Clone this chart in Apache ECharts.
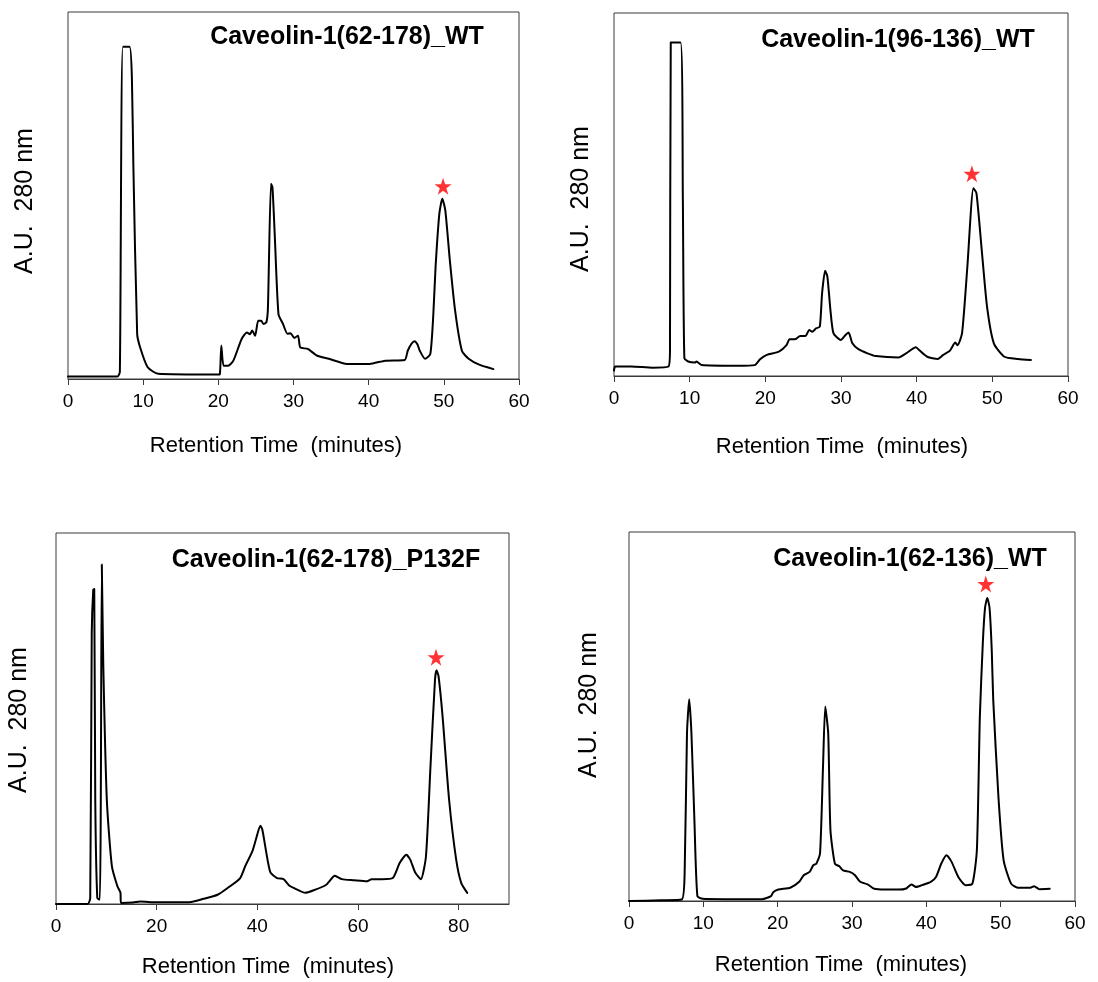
<!DOCTYPE html>
<html>
<head>
<meta charset="utf-8">
<script src="https://cdn.jsdelivr.net/npm/echarts@6/dist/echarts.min.js"></script>
<style>html,body{margin:0;padding:0;background:#fff}#c{width:1098px;height:982px}</style>
</head>
<body>
<div id="c"></div>
<script>
// ---- Data (retention time in minutes, absorbance in arbitrary units 0-100) ----
const panelTitles = ['Caveolin-1(62-178)_WT', 'Caveolin-1(96-136)_WT', 'Caveolin-1(62-178)_P132F', 'Caveolin-1(62-136)_WT'];
const xAxisTitle = 'Retention Time  (minutes)';
const yAxisTitle = 'A.U.  280 nm';
const xMax = [60, 60, 90, 60];
const xStep = [10, 10, 20, 10];

const p1Time = [0,6.6,6.9,7.3,8.2,8.5,8.7,9.2,9.6,10.6,12,19.9,20.2,20.4,20.7,21.3,22,23.1,23.8,24.2,24.5,24.9,25.3,25.7,26.0,26.4,26.6,27.0,27.2,27.5,28.0,28.6,29.2,29.6,30.1,30.6,30.9,31.9,33.1,34.7,37.1,40.1,42.2,44.8,45.2,45.7,46.1,46.5,46.8,47.5,48.2,48.6,48.9,49.4,49.8,50.2,50.8,51.5,52.4,53.3,54.7,56.6];
const p1Abs  = [0.7,0.7,2.0,90.5,90.5,82,57.7,12.3,8.6,3.2,1.4,1.2,1.3,9.1,3.6,3.6,5,10.9,12.7,12.2,13.2,11.8,15.9,15.9,15.0,15.5,19.5,53.2,52.3,39.5,17.7,15,12.3,12.5,11.2,11.8,8.6,8.2,6.4,5.5,4.1,4.1,5,5.2,7.7,9.6,10.3,9.4,7.7,5.5,6.8,17.5,30.5,45,49.1,45.9,32.3,18.6,7.7,5.5,3.9,2.7];

const p2Time = [0,0.15,2.3,5.1,7.2,7.4,7.5,8.8,9.1,9.3,9.8,10.7,10.9,11.6,16.3,18.6,19.3,20.2,21.8,22.8,23.2,23.9,24.6,25.3,25.8,26.2,26.7,27.2,27.5,27.9,28.2,28.6,29.0,29.97,30.6,31.0,31.5,32.3,33.5,34.6,37.6,38.6,39.9,40.4,41.4,42.8,43.5,44.4,45.1,45.4,46.0,46.7,47.5,47.9,48.6,49.3,50.2,51.6,53.4,55.1];
const p2Abs  = [1.5,2.6,2.6,2.3,2.6,7.2,91.9,91.9,48.5,4.9,4.0,3.7,4.0,3.0,2.8,3.0,4.6,5.8,6.7,8.5,10.1,10.1,11.0,11.0,12.7,12.2,13.1,13.6,22.8,29.0,27.4,18.2,11.8,9.9,11.3,12.0,9.0,7.4,6.25,5.5,5.1,6.25,7.9,7.0,5.3,4.7,5.8,7.0,9.2,8.5,11.8,30.1,51.7,50.4,34.7,19.1,9.0,5.3,4.7,4.4];

const p3Time = [0,6.3,6.8,7.1,7.4,7.6,7.8,8.2,8.7,8.9,9.1,9.4,10.1,11.1,12.2,12.8,12.9,15.3,16.7,18.8,26.5,29.3,32.1,34.1,36.6,37.6,39.0,39.7,40.6,41.0,41.8,42.6,43.9,45.2,46.4,47.7,49.5,51.2,53.7,55.4,56.8,59.2,61.7,62.7,64.8,66.9,68.3,69.6,70.4,71.4,72.5,73.5,74.4,75.3,75.6,76.0,76.8,78.1,79.5,80.5,81.7];
const p3Abs  = [0,0,1.6,73,84.7,84.9,28,1.6,1.2,28,91.5,64,28,10.2,4.8,3.1,0.3,0.4,0.7,0.5,0.5,1.4,2.5,4.3,7.0,10.2,14.2,17.3,21.1,20.0,13.7,8.5,7.0,6.7,4.9,4.0,3.0,3.7,5.2,7.6,6.7,6.4,6.1,6.7,6.7,7.0,11.1,13.3,11.9,8.4,6.7,12.8,37.1,60.5,63.0,61.4,50.6,28.1,12.0,5.7,3.0];

const p4Time = [0,4.3,7.1,7.5,7.8,8.1,8.4,8.8,9.2,9.9,12.8,17.9,19.1,19.4,20.1,21.7,22.9,23.5,24.3,24.8,25.2,25.7,26.1,26.4,26.8,27.1,27.7,28.3,28.8,29.7,30.4,31.1,32.1,33.0,34.4,36.3,37.3,38.0,38.6,39.4,40.6,41.3,42.0,42.7,43.4,44.3,45.3,46.2,46.8,47.2,47.6,47.9,48.2,48.5,48.8,49.0,49.7,50.4,51.4,52.3,54.0,54.5,55.2,56.6];
const p4Abs  = [0,0.2,0.4,9.2,45.4,54.7,45.4,21.9,1.3,0.6,0.5,0.5,1.3,2.4,3.1,3.6,5.2,7.0,7.9,9.7,10.1,12.9,36.4,52.7,45.4,19.2,10.1,9.4,8.3,7.9,7.0,5.2,4.5,3.3,3.1,3.1,3.4,4.5,3.8,4.3,5.2,6.5,10.1,12.4,10.6,6.5,4.3,4.7,13.8,50.0,70.0,79.5,82.1,79.5,68.0,54.5,28.2,11.0,4.7,3.6,3.6,4.0,3.2,3.3];

// Red stars marking the peak of interest: [time, absorbance]
const starTime = [49.9, 47.3, 75.5, 48.0];
const starAbs  = [52.5, 55.7, 66.5, 85.9];

// ---- Layout ----
const grids = [
  {left: 68,  top: 12,  width: 451, height: 367},
  {left: 614, top: 13,  width: 454, height: 363},
  {left: 56,  top: 533, width: 453, height: 371},
  {left: 629, top: 532, width: 446, height: 369}
];
const titlePos = [[347, 37], [898, 40], [326, 560], [910, 559]];
const xNamePos = [[276, 446], [842, 447], [268, 967], [841, 965]];
const yNamePos = [[25, 201], [581, 199], [19, 720], [589, 705]];

const FONT = '"Liberation Sans", Arial, sans-serif';
const STAR = 'path://M50,0 L61.8,35.1 L98.9,35.1 L68.9,56.8 L80.3,91.9 L50,70.2 L19.7,91.9 L31.1,56.8 L1.1,35.1 L38.2,35.1 Z';

const times = [p1Time, p2Time, p3Time, p4Time];
const abs = [p1Abs, p2Abs, p3Abs, p4Abs];

const option = {
  backgroundColor: '#fff',
  animation: false,
  grid: grids.map(g => Object.assign({show: true, borderColor: '#3a3a3a', borderWidth: 1, backgroundColor: 'transparent'}, g)),
  xAxis: grids.map((g, i) => ({
    type: 'value', gridIndex: i, min: 0, max: xMax[i], interval: xStep[i],
    splitLine: {show: false},
    axisLine: {show: true, onZero: false, lineStyle: {color: '#3a3a3a', width: 1}},
    axisTick: {show: true, length: 6, inside: false, lineStyle: {color: '#3a3a3a'}},
    axisLabel: {show: true, margin: 13, fontSize: 19, color: '#000', fontFamily: FONT, showMaxLabel: i !== 2}
  })),
  yAxis: grids.map((g, i) => ({
    type: 'value', gridIndex: i, min: 0, max: 100,
    splitLine: {show: false}, axisLine: {show: false}, axisTick: {show: false}, axisLabel: {show: false}
  })),
  series: [],
  graphic: []
};

for (let i = 0; i < 4; i++) {
  option.series.push({
    type: 'line', xAxisIndex: i, yAxisIndex: i, showSymbol: false, symbol: 'none',
    smooth: 0.2,
    lineStyle: {color: '#000', width: 2, join: 'round', cap: 'round'}, z: 3,
    data: times[i].map((t, k) => [t, abs[i][k]])
  });
  option.series.push({
    type: 'scatter', xAxisIndex: i, yAxisIndex: i, symbol: STAR, symbolSize: 17,
    itemStyle: {color: '#ff0000'}, z: 4,
    data: [[starTime[i], starAbs[i]]]
  });
  option.graphic.push({
    type: 'text', x: titlePos[i][0], y: titlePos[i][1],
    style: {text: panelTitles[i], font: 'bold 25px ' + FONT, fill: '#000', align: 'center', verticalAlign: 'middle'}
  });
  option.graphic.push({
    type: 'text', x: xNamePos[i][0], y: xNamePos[i][1],
    style: {text: xAxisTitle, font: '22px ' + FONT, fill: '#000', align: 'center', verticalAlign: 'middle'}
  });
  option.graphic.push({
    type: 'text', x: yNamePos[i][0], y: yNamePos[i][1], rotation: Math.PI / 2,
    style: {text: yAxisTitle, font: '25px ' + FONT, fill: '#000', align: 'center', verticalAlign: 'middle'}
  });
}

const chart = echarts.init(document.getElementById('c'), null, {renderer: 'canvas'});
chart.setOption(option);
</script>
</body>
</html>
